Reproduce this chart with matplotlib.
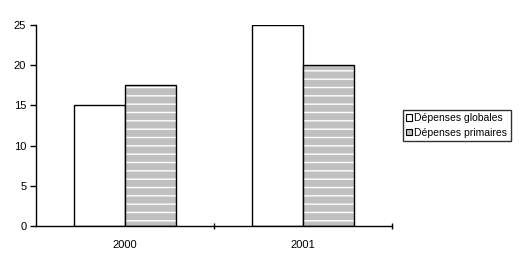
import matplotlib.pyplot as plt
import numpy as np
from matplotlib.patches import Patch

years = ['2000', '2001']
globales = [15, 25]
primaires = [17.5, 20]

plt.rcParams['font.family'] = ['Liberation Sans', 'DejaVu Sans']

fig = plt.figure(figsize=(5.26, 2.68), dpi=100)
ax = fig.add_axes([36 / 526, 1 - 226 / 268, 356 / 526, 201 / 268])

x = np.arange(len(years))
w = 0.287

ax.bar(x - w / 2, globales, w, facecolor='white', edgecolor='black', linewidth=1, zorder=2)
# grey bars with white horizontal stripes, outline drawn on top
ax.bar(x + w / 2, primaires, w, facecolor='#c0c0c0', edgecolor='white', linewidth=0,
       hatch='--', zorder=2)
ax.bar(x + w / 2, primaires, w, fill=False, edgecolor='black', linewidth=1, zorder=3)

ax.set_xlim(-0.5, 1.5)
ax.set_ylim(0, 25)
ax.set_yticks([0, 5, 10, 15, 20, 25])
ax.set_xticks([0.5, 1.5])
ax.set_xticklabels([])
ax.set_xticks(x, minor=True)
ax.set_xticklabels(years, minor=True)
ax.tick_params(axis='x', which='minor', length=0, pad=10, labelsize=8)
ax.tick_params(axis='x', which='major', direction='inout', length=5, width=1)
ax.tick_params(axis='y', direction='out', length=4, width=1, labelsize=8, pad=3)

for s in ['top', 'right']:
    ax.spines[s].set_visible(False)
for s in ['left', 'bottom']:
    ax.spines[s].set_linewidth(1)

handles = [Patch(facecolor='white', edgecolor='black', linewidth=0.8),
           Patch(facecolor='#c0c0c0', edgecolor='black', linewidth=0.8)]
leg = fig.legend(handles, ['Dépenses globales', 'Dépenses primaires'],
                 loc='upper left', bbox_to_anchor=(403 / 526, 1 - 110 / 268),
                 fontsize=7.5, frameon=True, fancybox=False, borderpad=0.3,
                 handlelength=0.6, handleheight=0.6, handletextpad=0.2,
                 labelspacing=0.45, borderaxespad=0)
leg.get_frame().set_edgecolor('black')
leg.get_frame().set_linewidth(1)

fig.savefig('out.png', dpi=100)
